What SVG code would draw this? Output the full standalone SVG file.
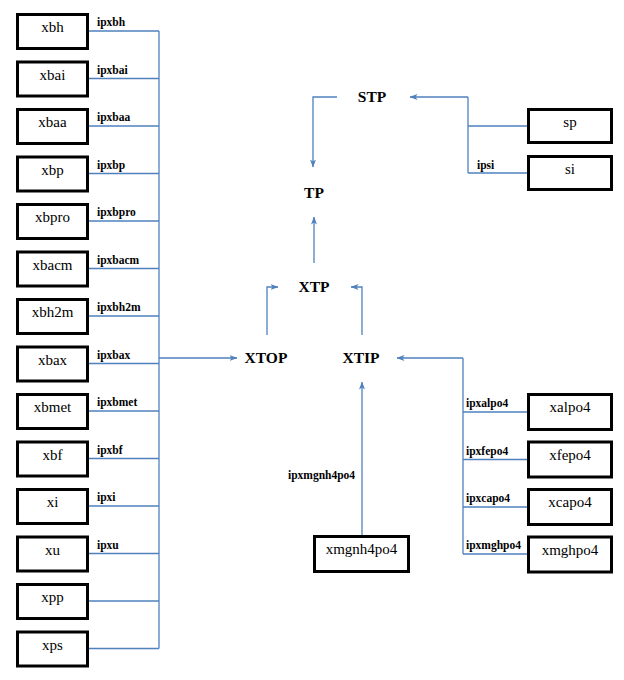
<svg xmlns="http://www.w3.org/2000/svg" width="624" height="680" viewBox="0 0 624 680" font-family="Liberation Serif, serif">
<style>
.box{fill:#fff;stroke:#000;stroke-width:3}
.nt{font-family:'Liberation Serif',serif;font-size:15px;text-anchor:middle;fill:#000}
.lb{font-family:'Liberation Serif',serif;font-size:11.5px;font-weight:bold;fill:#000}
.nd{font-family:'Liberation Serif',serif;font-size:15.5px;font-weight:bold;text-anchor:middle;fill:#000}
.ln{fill:none;stroke:#4F81BD;stroke-width:1.3}
</style>
<defs>
<marker id="ah" viewBox="0 0 8 8" refX="7.5" refY="4" markerWidth="8" markerHeight="8" markerUnits="userSpaceOnUse" orient="auto">
<path d="M0,1 L8,4 L0,7 L2,4 Z" fill="#4F81BD"/>
</marker>
</defs>
<rect width="624" height="680" fill="#fff"/>
<g id="connectors">
<path class="ln" d="M89,31 H159 M89,78.5 H159 M89,126 H159 M89,173.5 H159 M89,221 H159 M89,268.5 H159 M89,316 H159 M89,363.5 H159 M89,411 H159 M89,458.5 H159 M89,506 H159 M89,553.5 H159 M89,601 H159 M89,648.5 H159 M159,31 V648.5"/>
<path class="ln" d="M159,358 H237" marker-end="url(#ah)"/>
<path class="ln" d="M337,97 H313 V167" marker-end="url(#ah)"/>
<path class="ln" d="M314,263 V217" marker-end="url(#ah)"/>
<path class="ln" d="M267,335 V287 H278" marker-end="url(#ah)"/>
<path class="ln" d="M362,335 V287 H351" marker-end="url(#ah)"/>
<path class="ln" d="M527,126 H468 M527,173 H468 M468,173 V97"/>
<path class="ln" d="M468,97 H410" marker-end="url(#ah)"/>
<path class="ln" d="M527,412 H463 M527,459.5 H463 M527,507 H463 M527,554 H463 M463,554 V358"/>
<path class="ln" d="M463,358 H397" marker-end="url(#ah)"/>
<path class="ln" d="M362,535 V382" marker-end="url(#ah)"/>
</g>
<g id="labels">
<text class="lb" x="97" y="26">ipxbh</text>
<text class="lb" x="97" y="73.5">ipxbai</text>
<text class="lb" x="97" y="121">ipxbaa</text>
<text class="lb" x="97" y="168.5">ipxbp</text>
<text class="lb" x="97" y="216">ipxbpro</text>
<text class="lb" x="97" y="263.5">ipxbacm</text>
<text class="lb" x="97" y="311">ipxbh2m</text>
<text class="lb" x="97" y="358.5">ipxbax</text>
<text class="lb" x="97" y="406">ipxbmet</text>
<text class="lb" x="97" y="453.5">ipxbf</text>
<text class="lb" x="97" y="501">ipxi</text>
<text class="lb" x="97" y="548.5">ipxu</text>
<text class="lb" x="477" y="169">ipsi</text>
<text class="lb" x="466" y="407">ipxalpo4</text>
<text class="lb" x="466" y="454.5">ipxfepo4</text>
<text class="lb" x="466" y="502">ipxcapo4</text>
<text class="lb" x="466" y="549">ipxmghpo4</text>
<text class="lb" x="288" y="479">ipxmgnh4po4</text>
</g>
<g id="xbh"><rect class="box" x="17.5" y="14.5" width="70" height="34"/><text class="nt" x="52.5" y="32">xbh</text></g>
<g id="xbai"><rect class="box" x="17.5" y="62" width="70" height="34"/><text class="nt" x="52.5" y="79.5">xbai</text></g>
<g id="xbaa"><rect class="box" x="17.5" y="109.5" width="70" height="34"/><text class="nt" x="52.5" y="127">xbaa</text></g>
<g id="xbp"><rect class="box" x="17.5" y="157" width="70" height="34"/><text class="nt" x="52.5" y="174.5">xbp</text></g>
<g id="xbpro"><rect class="box" x="17.5" y="204.5" width="70" height="34"/><text class="nt" x="52.5" y="222">xbpro</text></g>
<g id="xbacm"><rect class="box" x="17.5" y="252" width="70" height="34"/><text class="nt" x="52.5" y="269.5">xbacm</text></g>
<g id="xbh2m"><rect class="box" x="17.5" y="299.5" width="70" height="34"/><text class="nt" x="52.5" y="317">xbh2m</text></g>
<g id="xbax"><rect class="box" x="17.5" y="347" width="70" height="34"/><text class="nt" x="52.5" y="364.5">xbax</text></g>
<g id="xbmet"><rect class="box" x="17.5" y="394.5" width="70" height="34"/><text class="nt" x="52.5" y="412">xbmet</text></g>
<g id="xbf"><rect class="box" x="17.5" y="442" width="70" height="34"/><text class="nt" x="52.5" y="459.5">xbf</text></g>
<g id="xi"><rect class="box" x="17.5" y="489.5" width="70" height="34"/><text class="nt" x="52.5" y="507">xi</text></g>
<g id="xu"><rect class="box" x="17.5" y="537" width="70" height="34"/><text class="nt" x="52.5" y="554.5">xu</text></g>
<g id="xpp"><rect class="box" x="17.5" y="584.5" width="70" height="34"/><text class="nt" x="52.5" y="602">xpp</text></g>
<g id="xps"><rect class="box" x="17.5" y="632" width="70" height="34"/><text class="nt" x="52.5" y="649.5">xps</text></g>
<g id="sp"><rect class="box" x="528.5" y="109.5" width="83" height="33"/><text class="nt" x="570" y="127">sp</text></g>
<g id="si"><rect class="box" x="528.5" y="156.5" width="83" height="33"/><text class="nt" x="570" y="174">si</text></g>
<g id="xalpo4"><rect class="box" x="528.5" y="394.5" width="83" height="35"/><text class="nt" x="570" y="412">xalpo4</text></g>
<g id="xfepo4"><rect class="box" x="528.5" y="442" width="83" height="35"/><text class="nt" x="570" y="459.5">xfepo4</text></g>
<g id="xcapo4"><rect class="box" x="528.5" y="489.5" width="83" height="35"/><text class="nt" x="570" y="507">xcapo4</text></g>
<g id="xmghpo4"><rect class="box" x="528.5" y="537" width="83" height="35"/><text class="nt" x="570" y="554.5">xmghpo4</text></g>
<g id="xmgnh4po4"><rect class="box" x="314.5" y="536.5" width="94" height="35"/><text class="nt" x="361.5" y="554">xmgnh4po4</text></g>
<g id="STP"><text class="nd" x="372" y="102">STP</text></g>
<g id="TP"><text class="nd" x="314" y="198">TP</text></g>
<g id="XTP"><text class="nd" x="314" y="292">XTP</text></g>
<g id="XTOP"><text class="nd" x="266" y="363">XTOP</text></g>
<g id="XTIP"><text class="nd" x="361" y="363">XTIP</text></g>
</svg>
